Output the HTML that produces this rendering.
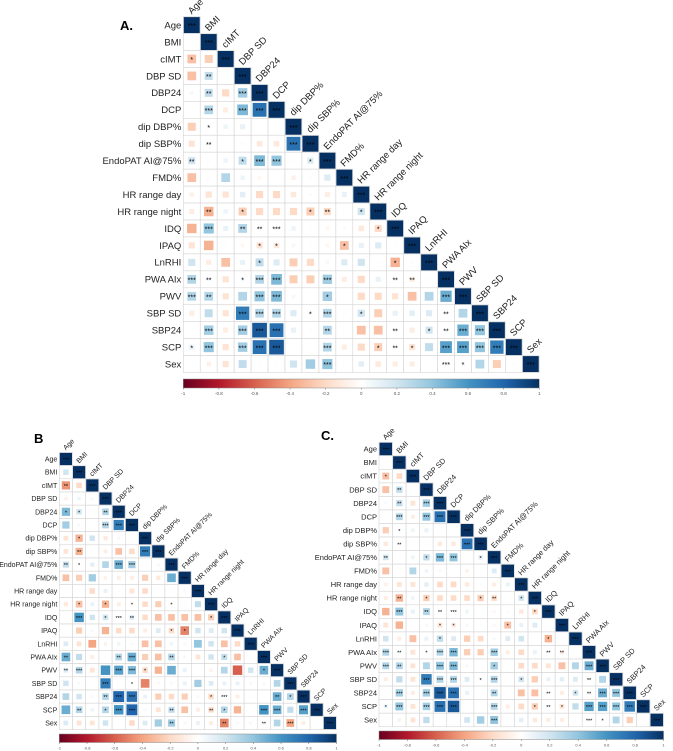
<!DOCTYPE html>
<html><head><meta charset="utf-8"><style>
html,body{margin:0;padding:0;background:#fff}
svg{display:block}
text{font-family:"Liberation Sans",Arial,sans-serif}
</style></head><body>
<svg id="fig" width="673" height="751" viewBox="0 0 673 751"></svg>
<script>
const variables = ["Age","BMI","cIMT","DBP SD","DBP24","DCP","dip DBP%","dip SBP%","EndoPAT AI@75%","FMD%","HR range day","HR range night","IDQ","IPAQ","LnRHI","PWA AIx","PWV","SBP SD","SBP24","SCP","Sex"];
const colorbarTicks = [-1,-0.8,-0.6,-0.4,-0.2,0,0.2,0.4,0.6,0.8,1];
const colorbarTickLabels = ["-1","-0.8","-0.6","-0.4","-0.2","0","0.2","0.4","0.6","0.8","1"];

const valuesA = [
[],
[0.02],
[-0.3,-0.25],
[-0.3,0.25,0],
[0.05,0.25,-0.2,0.35],
[0.02,0.3,-0.1,0.45,0.75],
[-0.25,0.05,0.08,0.1,0,0],
[-0.15,0.05,0,0.03,-0.12,-0.12,0.75],
[0.2,0.02,0.08,0.25,0.45,0.4,0.02,0.15],
[-0.3,0.02,0.3,0.08,-0.05,0,-0.08,0.03,0.15],
[-0.08,-0.15,-0.15,0.12,-0.2,-0.2,-0.12,0.03,-0.1,0.1],
[-0.1,-0.35,0.08,-0.25,-0.2,-0.2,-0.2,-0.25,-0.2,0.02,0.2],
[-0.35,0.4,0.1,0.3,0.05,0.05,0.08,0.02,-0.05,0.03,-0.12,-0.2],
[-0.15,-0.35,0.02,-0.05,-0.15,-0.12,0.05,0.02,-0.05,-0.3,0.1,0.15,0.02],
[0.2,-0.1,-0.3,0.1,0.25,0.15,-0.25,-0.2,0.05,0.15,0.2,0.02,-0.35,0.02],
[0.3,0.05,-0.15,0.05,0.3,0.45,-0.25,-0.25,0.35,-0.1,-0.2,0.1,0.05,-0.1,0.02],
[0.3,0.3,-0.15,0.3,0.4,0.45,-0.05,0.02,0.35,0.02,-0.2,-0.2,-0.15,-0.3,0.3,0.5],
[-0.1,0.25,-0.15,0.7,0.3,0.3,0.15,0.05,0.3,0.02,0.2,-0.25,0.1,0.12,0.15,0.05,0.3],
[0.02,0.35,-0.1,0.35,0.85,0.75,0.1,0.02,0.3,0.02,-0.3,-0.3,0.05,-0.1,0.2,0.05,0.5,0.4],
[0.1,0.4,-0.15,0.35,0.75,0.85,0.02,0,0.3,-0.1,-0.2,-0.25,0.05,-0.15,0.25,0.55,0.55,0.4,0.7],
[0.02,-0.08,-0.15,0.25,0.02,0.02,0.2,0.35,0.4,0.02,0.12,-0.12,-0.1,-0.1,0.02,0.05,0.05,0.3,-0.25,0.02]
];
const starsA = [
[],
[0],
[1,0],
[0,2,0],
[0,2,0,3],
[0,3,0,3,3],
[0,1,0,0,0,0],
[0,2,0,0,0,0,3],
[2,0,0,1,3,3,0,1],
[0,0,0,0,0,0,0,0,0],
[0,0,0,0,0,0,0,0,0,0],
[0,2,0,1,0,0,0,1,2,0,1],
[0,3,0,2,2,3,0,0,0,0,0,1],
[0,0,0,0,1,1,0,0,0,1,0,0,0],
[0,0,0,0,1,0,0,0,0,0,0,0,1,0],
[3,2,0,1,3,3,0,0,3,0,0,0,2,2,0],
[3,2,0,0,3,3,0,0,1,0,0,0,0,0,0,3],
[0,0,0,3,3,3,0,1,3,0,1,0,0,0,0,2,0],
[0,3,0,3,3,3,0,0,2,0,0,0,2,0,1,2,3,3],
[1,3,0,3,3,3,0,0,3,0,0,1,2,1,0,3,3,3,3],
[0,0,0,0,0,0,0,0,3,0,0,0,0,0,0,3,1,0,0,0]
];

const valuesB = [
[],
[0.2],
[-0.45,-0.2],
[-0.08,0.08,0.05],
[0.45,0.2,0.02,0.3],
[0.35,0.05,0.02,0.3,0.7],
[-0.15,-0.35,0.2,-0.12,-0.05,0.02],
[-0.15,-0.35,0,-0.1,-0.3,-0.2,0.7],
[0.25,0.05,0.12,0.3,0.5,0.35,0.02,0.05],
[-0.3,-0.25,0.35,-0.08,-0.1,-0.1,-0.25,-0.12,0.5],
[0.02,0.02,-0.2,0.1,0.02,-0.15,-0.2,0.02,0.02,0.05],
[-0.12,-0.3,0.1,-0.35,-0.1,-0.05,-0.2,-0.25,-0.05,0.02,0.25],
[0.02,0.6,0.2,0.2,0.05,0.15,-0.2,-0.3,-0.3,-0.3,-0.3,-0.25],
[0.02,-0.25,0.05,-0.35,-0.2,-0.2,-0.1,0.15,-0.2,-0.5,0.2,0.15,0.2],
[0.15,-0.15,-0.4,-0.08,0.08,0.05,-0.3,-0.3,0.08,0.05,0.4,0.2,-0.3,-0.2],
[0.5,0.25,-0.1,0.02,0.3,0.5,-0.25,-0.3,0.3,0.05,-0.15,0.2,0.25,-0.3,0.02],
[0.15,0.3,-0.15,0.6,0.55,0.45,-0.2,-0.35,0.5,0.1,0.02,-0.08,0.3,-0.6,0.2,0.5],
[0.2,0.05,0.02,0.7,0.02,0.05,-0.5,-0.05,0.05,0.1,0.35,0.15,0.1,0.1,0.05,0.05,0.3],
[0.3,0.2,0.05,0.3,0.8,0.75,0.1,-0.25,-0.2,-0.25,0.05,-0.2,0.05,-0.1,0.02,0.02,0.5,0.3],
[0.5,0.3,0.08,0.3,0.6,0.8,0.05,-0.15,0.25,-0.3,-0.1,-0.2,0.3,-0.35,0.02,0.6,0.5,0.25,0.55],
[0.15,-0.15,-0.15,0.2,0.02,-0.2,0.15,0.35,0.35,0.05,0.1,-0.1,-0.5,0.05,0.05,0.05,0.3,-0.4,-0.1,0.02]
];
const starsB = [
[],
[0],
[2,0],
[0,0,0],
[1,1,0,2],
[0,0,0,3,3],
[0,1,0,0,0,0],
[0,2,0,0,0,0,3],
[2,1,0,0,3,3,0,0],
[0,0,0,0,0,0,0,0,0],
[0,0,0,0,0,0,0,0,0,0],
[0,1,0,1,0,1,0,0,1,0,0],
[0,3,0,1,3,2,0,0,0,0,0,1],
[0,0,0,0,0,0,0,0,1,1,0,0,0],
[0,0,0,0,0,0,0,0,0,0,0,0,0,0],
[2,0,0,0,2,3,0,0,2,0,0,0,1,0,0],
[2,3,0,0,3,3,1,0,0,0,0,0,0,0,0,1],
[0,0,0,3,0,1,0,0,0,0,0,0,0,0,0,0,0],
[0,0,0,2,3,3,0,0,0,0,0,1,3,0,0,0,2,1],
[0,2,0,1,3,3,0,0,2,0,0,2,1,0,0,3,3,0,3],
[0,0,0,0,0,0,0,0,2,0,0,0,2,0,0,2,0,3,0,0]
];

const valuesC = [
[],
[0.02],
[-0.3,-0.2],
[-0.3,0.25,0],
[0.05,0.25,-0.15,0.35],
[0.02,0.3,-0.1,0.4,0.75],
[-0.25,0.05,0.08,0.1,0,0],
[-0.12,0.05,0,0.03,-0.12,-0.12,0.75],
[0.2,0.02,0.08,0.25,0.45,0.4,0.02,0.12],
[-0.3,0.02,0.3,0.08,-0.05,0,-0.08,0.03,0.15],
[-0.08,-0.15,-0.15,0.12,-0.2,-0.2,-0.12,0.03,-0.1,0.1],
[-0.1,-0.35,0.08,-0.25,-0.2,-0.2,-0.2,-0.25,-0.2,0.02,0.2],
[-0.35,0.4,0.1,0.3,0.05,0.05,0.08,0.02,-0.05,0.03,-0.12,-0.2],
[-0.15,-0.35,0.02,-0.05,-0.15,-0.12,0.05,0.02,-0.05,-0.3,0.1,0.15,0.02],
[0.2,-0.1,-0.3,0.1,0.25,0.15,-0.25,-0.2,0.05,0.15,0.2,0.02,-0.35,0.02],
[0.3,0.05,-0.15,0.05,0.3,0.45,-0.25,-0.25,0.35,-0.1,-0.2,0.1,0.05,-0.1,0.02],
[0.3,0.3,-0.15,0.3,0.4,0.45,-0.05,0.02,0.35,0.02,-0.2,-0.2,-0.15,-0.3,0.3,0.5],
[-0.1,0.25,-0.15,0.7,0.3,0.3,0.15,0.05,0.3,0.02,0.2,-0.25,0.1,0.12,0.15,0.05,0.3],
[0.02,0.35,-0.1,0.35,0.85,0.75,0.1,0.02,0.3,0.02,-0.3,-0.3,0.05,-0.1,0.2,0.05,0.5,0.4],
[0.1,0.4,-0.15,0.35,0.75,0.85,0.02,0,0.3,-0.1,-0.2,-0.25,0.05,-0.15,0.25,0.55,0.55,0.4,0.7],
[0.02,-0.08,-0.15,0.25,0.02,0.02,0.2,0.35,0.4,0.02,0.12,-0.12,-0.1,-0.1,0.02,0.05,0.05,0.3,-0.25,0.02]
];
const starsC = starsA.map(r => r.slice());

const svg = document.getElementById('fig');
const NS = 'http://www.w3.org/2000/svg';
function el(tag, attrs, parent) {
  const e = document.createElementNS(NS, tag);
  for (const k in attrs) e.setAttribute(k, attrs[k]);
  (parent || svg).appendChild(e);
  return e;
}
const stops = [[-1,[103,0,31]],[-0.8,[178,24,43]],[-0.6,[214,96,77]],[-0.4,[244,165,130]],[-0.2,[253,219,199]],[0,[255,255,255]],[0.2,[209,229,240]],[0.4,[146,197,222]],[0.6,[67,147,195]],[0.8,[33,102,172]],[1,[5,48,97]]];
function color(v) {
  v = Math.max(-1, Math.min(1, v));
  for (let i = 0; i < stops.length - 1; i++) {
    const a = stops[i], b = stops[i+1];
    if (v <= b[0]) {
      const t = (v - a[0]) / (b[0] - a[0]);
      const c = a[1].map((x, k) => Math.round(x + (b[1][k] - x) * t));
      return 'rgb(' + c.join(',') + ')';
    }
  }
  return 'rgb(5,48,97)';
}
const defs = el('defs', {});
const grad = el('linearGradient', {id: 'cbgrad', x1: '0', x2: '1', y1: '0', y2: '0'}, defs);
stops.forEach(s => el('stop', {offset: ((s[0] + 1) / 2 * 100) + '%', 'stop-color': color(s[0])}, grad));

function panel(cfg) {
  const g = el('g', {});
  
  
  const n = variables.length, c = cfg.cell;
  const xPos = j => cfg.left + j * c;
  const yPos = i => cfg.top + i * c;
  const title = el('text', {x: cfg.titleX, y: cfg.titleY, 'font-size': cfg.titleSize, 'font-weight': 'bold', fill: '#000'}, g);
  title.textContent = cfg.title;
  
  
  for (let i = 0; i < n; i++) {
    for (let j = 0; j <= i; j++) {
      const v = i === j ? 1 : cfg.values[i][j];
      const st = i === j ? 3 : cfg.stars[i][j];
      const cellG = el('g', {}, g);
      
      
      el('rect', {x: xPos(j), y: yPos(i), width: c, height: c, fill: '#fff', stroke: '#d4d4d4', 'stroke-width': 0.6}, cellG);
      const s = (c - 1) * Math.sqrt(Math.abs(v));
      if (s > 0.3) {
        el('rect', {x: xPos(j) + (c - s) / 2, y: yPos(i) + (c - s) / 2, width: s, height: s, fill: color(v)}, cellG);
      }
      if (st > 0) {
        const t = el('text', {x: xPos(j) + c / 2, y: yPos(i) + c / 2 + cfg.starSize * 0.45, 'font-size': cfg.starSize, 'text-anchor': 'middle', fill: '#000'}, cellG);
        t.textContent = '*'.repeat(st);
      }
    }
    const lab = el('text', {x: cfg.left - 2, y: yPos(i) + c / 2 + cfg.labelSize * 0.35, 'font-size': cfg.labelSize, 'text-anchor': 'end', fill: '#222'}, g);
    lab.textContent = variables[i];
    
    
    const cx = xPos(i) + c / 2, cy = yPos(i) - 2;
    const tl = el('text', {x: cx, y: cy, 'font-size': cfg.labelSize, fill: '#222', transform: 'rotate(-45 ' + cx + ' ' + cy + ')'}, g);
    tl.textContent = variables[i];
    
    
  }
  const cbW = n * c;
  const cb = el('rect', {x: cfg.left, y: cfg.cbY, width: cbW, height: cfg.cbH, fill: 'url(#cbgrad)', stroke: '#888', 'stroke-width': 0.5}, g);
  
  
  colorbarTicks.forEach((tv, k) => {
    const x = cfg.left + (tv + 1) / 2 * cbW;
    el('line', {x1: x, x2: x, y1: cfg.cbY + cfg.cbH, y2: cfg.cbY + cfg.cbH + 1.5, stroke: '#666', 'stroke-width': 0.5}, g);
    const t = el('text', {x: x, y: cfg.cbY + cfg.cbH + 7, 'font-size': cfg.tickSize, 'text-anchor': 'middle', fill: '#555'}, g);
    t.textContent = colorbarTickLabels[k];
    
    
  });
}

panel({name: 'panel-a', title: 'A.', titleX: 120, titleY: 30, titleSize: 13, values: valuesA, stars: starsA,
  left: 183.3, top: 16.6, cell: 16.95, labelSize: 9.5, starSize: 7, cbY: 379, cbH: 9, tickSize: 4.5});
panel({name: 'panel-b', title: 'B', titleX: 34, titleY: 443, titleSize: 13, values: valuesB, stars: starsB,
  left: 59.3, top: 452.4, cell: 13.2, labelSize: 7, starSize: 5.5, cbY: 734, cbH: 8.5, tickSize: 4});
panel({name: 'panel-c', title: 'C.', titleX: 321, titleY: 440, titleSize: 13, values: valuesC, stars: starsC,
  left: 379, top: 442.2, cell: 13.55, labelSize: 7.5, starSize: 5.5, cbY: 731, cbH: 8.5, tickSize: 4});
</script>
</body></html>
